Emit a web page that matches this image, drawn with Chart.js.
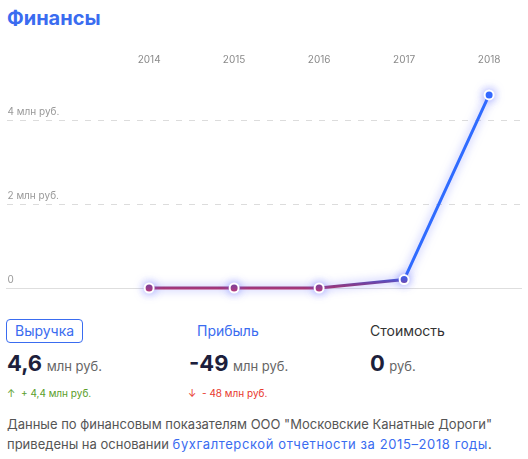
<!DOCTYPE html>
<html lang="ru">
<head>
<meta charset="utf-8">
<title>Финансы</title>
<script src="https://cdn.jsdelivr.net/npm/chart.js@4/dist/chart.umd.min.js"></script>
<style>
  html, body { margin: 0; padding: 0; background: #fff; }
  body { width: 528px; height: 459px; position: relative; overflow: hidden; font-family: Inter, "Noto Sans", sans-serif; }
  .title { position: absolute; left: 7px; top: 6px; font-size: 20px; font-weight: 700; color: #3a6cf0; }
  #wrap { position: absolute; left: 0; top: 40px; width: 528px; height: 265px; }
  .tab { position: absolute; top: 320px; height: 22px; line-height: 22px; font-size: 14px; }
  .tab.active { left: 6px; padding: 0 8px; border: 1px solid #3a6cf0; border-radius: 4px; color: #3a6cf0; top: 319px; }
  .tab.link { left: 189px; padding: 0 8px; color: #3a6cf0; }
  .tab.plain { left: 370px; color: #333; }
  .val { position: absolute; top: 350px; white-space: nowrap; }
  .val b { font-size: 22px; font-weight: 700; color: #1d1f3c; }
  .val span { font-size: 13px; color: #666; }
  .delta { position: absolute; top: 387px; font-size: 10px; white-space: nowrap; }
  .up { color: #5a9e2a; }
  .down { color: #e8382e; }
  .note { position: absolute; left: 7px; top: 414px; font-size: 13px; line-height: 20px; color: #555; width: 521px; white-space: nowrap; }
  .note a { color: #3a6cf0; text-decoration: none; letter-spacing: 0.6px; }
</style>
</head>
<body>
<div class="title">Финансы</div>
<div id="wrap"><canvas id="chart"></canvas></div>

<div class="tab active">Выручка</div>
<div class="tab link">Прибыль</div>
<div class="tab plain">Стоимость</div>

<div class="val" style="left:7px"><b>4,6</b> <span>млн руб.</span></div>
<div class="val" style="left:189px"><b>-49</b> <span>млн руб.</span></div>
<div class="val" style="left:370px"><b>0</b> <span>руб.</span></div>

<div class="delta up" style="left:7px">↑&nbsp; + 4,4 млн руб.</div>
<div class="delta down" style="left:188px">↓&nbsp; - 48 млн руб.</div>

<div class="note">Данные по финансовым показателям ООО "Московские Канатные Дороги"<br>приведены на основании <a href="#">бухгалтерской отчетности за 2015–2018 годы</a>.</div>

<script>
// Revenue by year, million rubles
const years = [2014, 2015, 2016, 2017, 2018];
const revenue = [0, 0, 0, 0.2, 4.6];
const yTicks = [0, 2, 4];

// Vertical stroke gradient: magenta at the zero line, blue higher up
function lineGradient(context) {
  const chart = context.chart;
  const area = chart.chartArea;
  if (!area) return '#3a6cf0';
  const y0 = chart.scales.y.getPixelForValue(0);
  const g = chart.ctx.createLinearGradient(0, y0 + 3, 0, y0 - 16);
  g.addColorStop(0, '#c0336a');
  g.addColorStop(0.3, '#883b88');
  g.addColorStop(0.62, '#4c54cf');
  g.addColorStop(1, '#2f6bff');
  return g;
}

// Soft glow under the line
const glow = {
  id: 'glow',
  beforeDatasetsDraw(chart) {
    const c = chart.ctx;
    c.save();
    c.shadowColor = 'rgba(90, 100, 255, 0.6)';
    c.shadowBlur = 10;
  },
  afterDatasetsDraw(chart) {
    chart.ctx.restore();
  }
};

const xMin = 2012.322;
const xMax = 2018.381;

new Chart(document.getElementById('chart'), {
  type: 'line',
  data: {
    datasets: [{
      data: years.map((y, i) => ({ x: y, y: revenue[i] })),
      borderColor: lineGradient,
      borderWidth: 3,
      tension: 0,
      clip: false,
      pointRadius: 4.5,
      pointHoverRadius: 4.5,
      pointBackgroundColor: lineGradient,
      pointBorderColor: '#fff',
      pointBorderWidth: 2
    }]
  },
  options: {
    responsive: true,
    maintainAspectRatio: false,
    animation: false,
    events: [],
    layout: { padding: { left: 3, right: 2, top: 4, bottom: 17 } },
    plugins: { legend: { display: false }, tooltip: { enabled: false } },
    scales: {
      x: {
        type: 'linear',
        position: 'top',
        min: xMin,
        max: xMax,
        afterBuildTicks: s => { s.ticks = years.map(v => ({ value: v })); },
        grid: { display: false, drawTicks: false },
        border: { display: false },
        ticks: {
          padding: 10,
          color: '#8a8a8a',
          font: { family: 'Inter, "Noto Sans", sans-serif', size: 10 },
          callback: v => String(v)
        }
      },
      x2: {
        type: 'linear',
        position: 'bottom',
        min: xMin,
        max: xMax,
        grid: { display: false, drawTicks: false },
        ticks: { display: false },
        border: { display: true, color: '#dedede', width: 1 }
      },
      y: {
        min: 0,
        max: 5.05,
        afterBuildTicks: s => { s.ticks = yTicks.map(v => ({ value: v })); },
        grid: {
          drawTicks: false,
          color: c => (c.tick && c.tick.value === 0 ? 'rgba(0,0,0,0)' : '#dcdcdc'),
          lineWidth: 1
        },
        border: { display: false, dash: [6, 7] },
        ticks: {
          mirror: true,
          padding: 1,
          labelOffset: -8,
          color: '#999',
          font: { family: 'Inter, "Noto Sans", sans-serif', size: 10 },
          callback: v => (v === 0 ? '0' : v + ' млн руб.')
        }
      }
    }
  },
  plugins: [glow]
});
</script>
</body>
</html>
